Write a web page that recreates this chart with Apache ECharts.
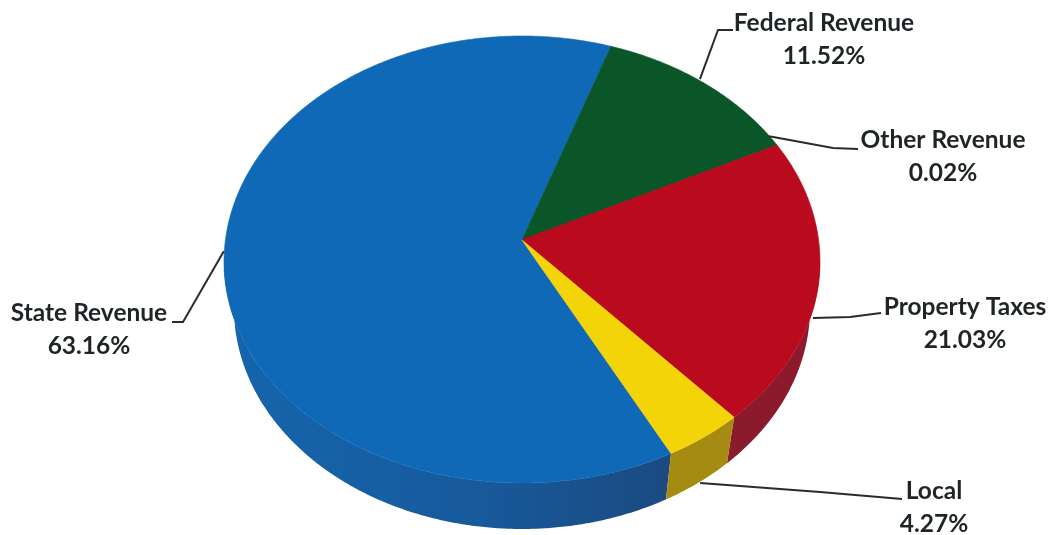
<!DOCTYPE html>
<html><head><meta charset="utf-8">
<style>html,body{margin:0;padding:0;background:#fff}#c{width:1052px;height:535px}</style>
<script src="https://cdn.jsdelivr.net/npm/echarts@6/dist/echarts.min.js"></script>
</head><body><div id="c"></div>
<script>
const categories = ['State Revenue','Federal Revenue','Other Revenue','Property Taxes','Local'];
const values = [63.16,11.52,0.02,21.03,4.27];
const topColors = ['#0f69b7','#0b5628','#b90a1e','#b90a1e','#f2d408'];
const sideColors = ['#17558f','#0a4020','#8a1a2c','#8a1a2c','#a68b12'];
// label placement: text centre, leader elbow, leader end, leader anchor offset from the rim
const labelLayout = [
  {tx:89, ty:330, ex:183, ey:322, lx:172, ly:322, ax:-2, ay:-35},
  {tx:824,ty:40,  ex:718, ey:30,  lx:733, ly:30,  ax:-6, ay:-5},
  {tx:943,ty:157, ex:833, ey:148, lx:858, ly:149, ax:-8, ay:-9},
  {tx:965,ty:324, ex:850, ey:317, lx:881, ly:313, ax:-5, ay:30},
  {tx:934,ty:508, ex:820, ey:492, lx:902, ly:499, ax:-4, ay:46}
];
const G = {cx:522, cy:262, rx:298, ryUp:226, ryDown:221, apexX:522, apexY:240, depth:46, rxBase:288, start:150};
const total = values.reduce((a,b)=>a+b,0);
function pt(deg,base){
  const r=deg*Math.PI/180, c=Math.cos(r);
  const ry=c>0?G.ryUp:G.ryDown;
  if(base) return [G.cx+G.rxBase*Math.sin(r), G.cy+G.depth-G.ryDown*c];
  return [G.cx+G.rx*Math.sin(r), G.cy-ry*c];
}
function arc(a,b,base){const n=Math.max(2,Math.ceil((b-a)*2));const out=[];for(let i=0;i<=n;i++)out.push(pt(a+(b-a)*i/n,base));return out;}

function renderItem(params, api){
  const i = api.value(1);
  let before = 0; for(let k=0;k<i;k++) before += values[k];
  const a = G.start + before/total*360;
  const b = a + api.value(0)/total*360;
  const children = [];
  // visible side wall: the part of the rim in the front half
  [[a,b],[a-360,b-360]].forEach(([s,e])=>{
    const lo=Math.max(s,90), hi=Math.min(e,270);
    if(hi>lo){
      const pts = arc(lo,hi,false).concat(arc(lo,hi,true).reverse());
      children.push({type:'polygon',shape:{points:pts},
        style:{fill:i===0?{type:'linear',x:0,y:0,x2:1,y2:0,colorStops:[{offset:0,color:'#1565ad'},{offset:0.55,color:'#175a9c'},{offset:1,color:'#1b4a80'}]}:sideColors[i],stroke:null}});
    }
  });
  const topPts = [[G.apexX,G.apexY]].concat(arc(a,b,false));
  children.push({type:'polygon',shape:{points:topPts},style:{fill:topColors[i],stroke:topColors[i],lineWidth:0.6}});
  // leader + label
  const L = labelLayout[i];
  const m = pt((a+b)/2);
  children.push({type:'polyline',shape:{points:[[m[0]+L.ax,m[1]+L.ay],[L.ex,L.ey],[L.lx,L.ly]]},
    style:{stroke:'#2b2b2b',lineWidth:2,fill:null},z2:5});
  children.push({type:'text',style:{x:L.tx,y:L.ty,text:categories[i]+'\n'+values[i].toFixed(2)+'%',
    align:'center',verticalAlign:'middle',fill:'#1f2426',font:'700 24.5px Lato',lineHeight:33},z2:6});
  return {type:'group',children};
}

const chart = echarts.init(document.getElementById('c'),null,{renderer:'canvas'});
chart.setOption({
  animation:false,
  backgroundColor:'#fff',
  series:[{type:'custom',coordinateSystem:'none',renderItem,silent:true,
    data:categories.map((c,i)=>({name:c,value:[values[i],i]}))}]
});
</script></body></html>
